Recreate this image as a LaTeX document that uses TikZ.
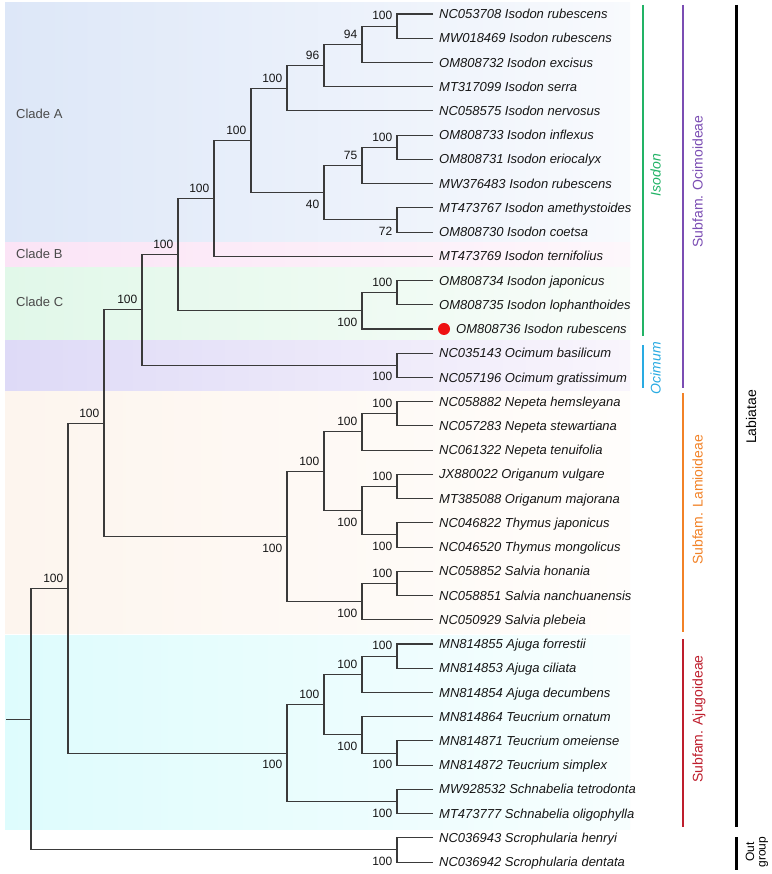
\documentclass[tikz,border=0pt]{standalone}
\usepackage{fontspec}
\setmainfont{Liberation Sans}
\definecolor{treec}{HTML}{3A3A3A}
\definecolor{txt}{HTML}{161616}
\definecolor{cladetxt}{HTML}{4A4A4A}
\definecolor{isogreen}{HTML}{22B366}
\definecolor{ocblue}{HTML}{29ABE2}
\definecolor{ocipurple}{HTML}{7B4DB3}
\definecolor{lamorange}{HTML}{F28227}
\definecolor{ajured}{HTML}{BE1E2D}
\definecolor{dotred}{HTML}{EE1111}
\definecolor{bAl}{HTML}{DDE7F8}\definecolor{bAr}{HTML}{F8FAFD}
\definecolor{bBl}{HTML}{FBE4F6}\definecolor{bBr}{HTML}{FDF7FB}
\definecolor{bCl}{HTML}{E1F8E9}\definecolor{bCr}{HTML}{F8FCF9}
\definecolor{bOl}{HTML}{DEDAF7}\definecolor{bOr}{HTML}{F9F5FC}
\definecolor{bLl}{HTML}{FDF5EE}\definecolor{bLr}{HTML}{FFFDFB}
\definecolor{bJl}{HTML}{DEFCFD}\definecolor{bJr}{HTML}{F7FEFE}
\tikzset{
  br/.style={draw=treec, line width=1.05pt},
  leaflab/.style={anchor=base west, inner sep=0pt, text=txt, font=\fontsize{13}{15}\selectfont\itshape},
  bs/.style={inner sep=0pt, text=txt, font=\fontsize{12}{14}\selectfont},
  cladelab/.style={anchor=west, inner sep=0pt, text=cladetxt, font=\fontsize{13}{15}\selectfont},
  grouplab/.style={rotate=90, anchor=base, inner sep=0pt, font=\fontsize{14}{16}\selectfont},
  bar/.style={line width=2.4pt},
}
\newcommand\leaf[3]{\coordinate (e#1) at (433,#2); \node[leaflab] (t#1) at (439,{#2+4.6}) {#3};}
\newcommand\inode[3]{\coordinate (#1) at (#2,#3);}
\newcommand\clade[3]{\draw[br] (#2) -| (#1) |- (#3);}
\newcommand\bsa[2]{\node[bs, anchor=south east] (b#1) at ([xshift=-4.5pt,yshift=5.8pt]#1) {#2};}
\newcommand\bsb[2]{\node[bs, anchor=north east] (b#1) at ([xshift=-4.5pt,yshift=-7pt]#1) {#2};}
\newcommand\band[5]{\shade[left color=#3, right color=#4] (5,#1) rectangle (#5,#2);}
\begin{document}
\begin{tikzpicture}[x=1pt,y=-1pt]
\useasboundingbox (0,0) rectangle (771,874);
\fill[white] (0,0) rectangle (771,874);
% background bands
\band{3}{243}{bAl}{bAr}{630}
\band{243}{268}{bBl}{bBr}{630}
\band{268}{340}{bCl}{bCr}{630}
\band{340}{391}{bOl}{bOr}{630}
\band{391}{633}{bLl}{bLr}{630}
\band{635}{829}{bJl}{bJr}{630}
\node[cladelab] (cA) at (16,113.7) {Clade A};
\node[cladelab] (cB) at (16,253.7) {Clade B};
\node[cladelab] (cC) at (16,301.7) {Clade C};
% leaves
\leaf{0}{14.00}{NC053708 Isodon rubescens}
\leaf{1}{38.23}{MW018469 Isodon rubescens}
\leaf{2}{62.46}{OM808732 Isodon excisus}
\leaf{3}{86.69}{MT317099 Isodon serra}
\leaf{4}{110.92}{NC058575 Isodon nervosus}
\leaf{5}{135.15}{OM808733 Isodon inflexus}
\leaf{6}{159.38}{OM808731 Isodon eriocalyx}
\leaf{7}{183.61}{MW376483 Isodon rubescens}
\leaf{8}{207.84}{MT473767 Isodon amethystoides}
\leaf{9}{232.07}{OM808730 Isodon coetsa}
\leaf{10}{256.30}{MT473769 Isodon ternifolius}
\leaf{11}{280.53}{OM808734 Isodon japonicus}
\leaf{12}{304.76}{OM808735 Isodon lophanthoides}
\coordinate (e13) at (433,328.99);
\node[circle, fill=dotred, inner sep=0pt, minimum size=12pt] (dot) at (444,328.99) {};
\node[leaflab] (t13) at (456,{328.99+4.6}) {OM808736 Isodon rubescens};
\leaf{14}{353.22}{NC035143 Ocimum basilicum}
\leaf{15}{377.45}{NC057196 Ocimum gratissimum}
\leaf{16}{401.68}{NC058882 Nepeta hemsleyana}
\leaf{17}{425.91}{NC057283 Nepeta stewartiana}
\leaf{18}{450.14}{NC061322 Nepeta tenuifolia}
\leaf{19}{474.37}{JX880022 Origanum vulgare}
\leaf{20}{498.60}{MT385088 Origanum majorana}
\leaf{21}{522.83}{NC046822 Thymus japonicus}
\leaf{22}{547.06}{NC046520 Thymus mongolicus}
\leaf{23}{571.29}{NC058852 Salvia honania}
\leaf{24}{595.52}{NC058851 Salvia nanchuanensis}
\leaf{25}{619.75}{NC050929 Salvia plebeia}
\leaf{26}{643.98}{MN814855 Ajuga forrestii}
\leaf{27}{668.21}{MN814853 Ajuga ciliata}
\leaf{28}{692.44}{MN814854 Ajuga decumbens}
\leaf{29}{716.67}{MN814864 Teucrium ornatum}
\leaf{30}{740.90}{MN814871 Teucrium omeiense}
\leaf{31}{765.13}{MN814872 Teucrium simplex}
\leaf{32}{789.36}{MW928532 Schnabelia tetrodonta}
\leaf{33}{813.59}{MT473777 Schnabelia oligophylla}
\leaf{34}{837.82}{NC036943 Scrophularia henryi}
\leaf{35}{862.05}{NC036942 Scrophularia dentata}
% internal nodes
\inode{n01}{397}{26.12}
\inode{n94}{362}{44.29}
\inode{n96}{324}{65.49}
\inode{nA1}{287}{88.21}
\inode{n56}{397}{147.27}
\inode{n75}{362}{165.44}
\inode{n89}{397}{219.96}
\inode{n40}{324}{192.70}
\inode{nA}{251}{140.46}
\inode{nAB}{214}{198.38}
\inode{n1112}{397}{292.65}
\inode{nC}{362}{310.82}
\inode{nABC}{178}{254.60}
\inode{nOc}{397}{365.34}
\inode{nOci}{142}{309.97}
\inode{n1617}{397}{413.80}
\inode{n18}{362}{431.97}
\inode{n1920}{397}{486.49}
\inode{n2122}{397}{534.95}
\inode{nOT}{362}{510.72}
\inode{nNOT}{324}{471.35}
\inode{n2324}{397}{583.41}
\inode{nSal}{362}{601.58}
\inode{nLam}{287}{536.47}
\inode{nOL}{104}{423.22}
\inode{n2627}{397}{656.10}
\inode{n28}{362}{674.27}
\inode{n3031}{397}{753.02}
\inode{nTeu}{362}{734.85}
\inode{nAT}{324}{704.56}
\inode{n3233}{397}{801.48}
\inode{nAju}{287}{753.02}
\inode{nLab}{68}{588.12}
\inode{nOut}{397}{849.94}
\inode{root}{31}{719.03}
\inode{stem}{6}{719.03}
% branches
\clade{n01}{e0}{e1}
\clade{n94}{n01}{e2}
\clade{n96}{n94}{e3}
\clade{nA1}{n96}{e4}
\clade{n56}{e5}{e6}
\clade{n75}{n56}{e7}
\clade{n89}{e8}{e9}
\clade{n40}{n75}{n89}
\clade{nA}{nA1}{n40}
\clade{nAB}{nA}{e10}
\clade{n1112}{e11}{e12}
\clade{nC}{n1112}{e13}
\clade{nABC}{nAB}{nC}
\clade{nOc}{e14}{e15}
\clade{nOci}{nABC}{nOc}
\clade{n1617}{e16}{e17}
\clade{n18}{n1617}{e18}
\clade{n1920}{e19}{e20}
\clade{n2122}{e21}{e22}
\clade{nOT}{n1920}{n2122}
\clade{nNOT}{n18}{nOT}
\clade{n2324}{e23}{e24}
\clade{nSal}{n2324}{e25}
\clade{nLam}{nNOT}{nSal}
\clade{nOL}{nOci}{nLam}
\clade{n2627}{e26}{e27}
\clade{n28}{n2627}{e28}
\clade{n3031}{e30}{e31}
\clade{nTeu}{e29}{n3031}
\clade{nAT}{n28}{nTeu}
\clade{n3233}{e32}{e33}
\clade{nAju}{nAT}{n3233}
\clade{nLab}{nOL}{nAju}
\clade{nOut}{e34}{e35}
\clade{root}{nLab}{nOut}
\draw[br] (stem) -- (root);
% bootstrap values
\bsa{n01}{100}
\bsa{n94}{94}
\bsa{n96}{96}
\bsa{nA1}{100}
\bsa{n56}{100}
\bsa{n75}{75}
\bsb{n89}{72}
\bsb{n40}{40}
\bsa{nA}{100}
\bsa{nAB}{100}
\bsa{n1112}{100}
\bsb{nC}{100}
\bsa{nABC}{100}
\bsb{nOc}{100}
\bsa{nOci}{100}
\bsa{n1617}{100}
\bsa{n18}{100}
\bsa{n1920}{100}
\bsb{n2122}{100}
\bsb{nOT}{100}
\bsa{nNOT}{100}
\bsa{n2324}{100}
\bsb{nSal}{100}
\bsb{nLam}{100}
\bsa{nOL}{100}
\bsa{n2627}{100}
\bsa{n28}{100}
\bsb{n3031}{100}
\bsb{nTeu}{100}
\bsa{nAT}{100}
\bsb{n3233}{100}
\bsb{nAju}{100}
\bsa{nLab}{100}
\bsb{nOut}{100}
% group bars
\coordinate (gI1) at (643,5); \coordinate (gI2) at (643,336);
\coordinate (gO1) at (643,345); \coordinate (gO2) at (643,388);
\coordinate (sO1) at (683,5); \coordinate (sO2) at (683,388);
\coordinate (sL1) at (683,393); \coordinate (sL2) at (683,632);
\coordinate (sA1) at (683,639); \coordinate (sA2) at (683,827);
\coordinate (lb1) at (736,5); \coordinate (lb2) at (736,827);
\coordinate (og1) at (736,837); \coordinate (og2) at (736,870);
\draw[bar, isogreen] (gI1) -- (gI2);
\draw[bar, ocblue] (gO1) -- (gO2);
\draw[bar, ocipurple] (sO1) -- (sO2);
\draw[bar, lamorange] (sL1) -- (sL2);
\draw[bar, ajured] (sA1) -- (sA2);
\draw[line width=3pt, black] (lb1) -- (lb2);
\draw[line width=3pt, black] (og1) -- (og2);
\node[grouplab, text=isogreen, font=\fontsize{14}{16}\selectfont\itshape] (gIso) at (660.5,175) {Isodon};
\node[grouplab, text=ocblue, font=\fontsize{14}{16}\selectfont\itshape] (gOci) at (660.5,368) {Ocimum};
\node[grouplab, text=ocipurple] (sOci) at (702.5,181.5) {Subfam. Ocimoideae};
\node[grouplab, text=lamorange] (sLam) at (702.5,500) {Subfam. Lamioideae};
\node[grouplab, text=ajured] (sAju) at (702.5,719) {Subfam. Ajugoideae};
\node[grouplab, text=black] (lab) at (756,417) {Labiatae};
\node[rotate=90, anchor=center, inner sep=0pt, align=center, text=black, font=\fontsize{12}{11.5}\selectfont] (outg) at (757,852) {Out\\group};
\end{tikzpicture}
\end{document}
